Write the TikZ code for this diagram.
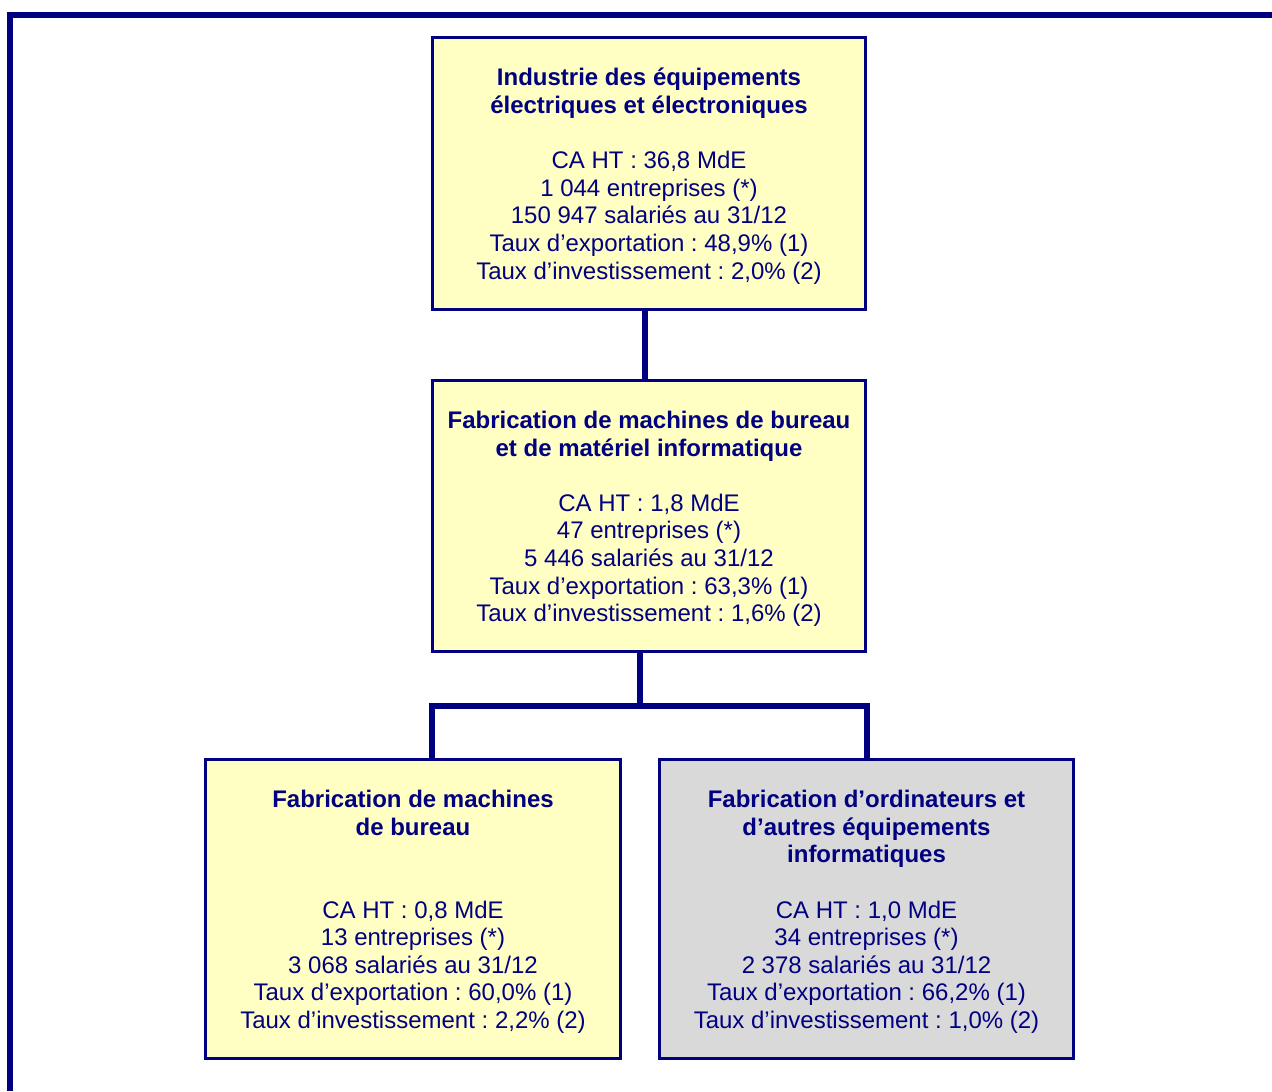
\documentclass[tikz,border=0pt]{standalone}
\usepackage{fontspec}
\setmainfont{Liberation Sans}
\frenchspacing
\definecolor{navy}{HTML}{000080}
\definecolor{boxyellow}{HTML}{FFFFC4}
\definecolor{boxgrey}{HTML}{D9D9D9}
\newcommand{\btxt}[1]{\raisebox{-1.75pt}[\height][\depth]{\begin{tabular}{@{}c@{}}#1\end{tabular}}}
\begin{document}
\begin{tikzpicture}[x=0.5pt,y=-0.5pt,
  box/.style={draw=navy,line width=1.5pt,fill=boxyellow,text=navy,inner sep=0pt,
    font=\fontsize{12}{13.8}\selectfont},
  link/.style={draw=navy,line width=3pt},
  frame/.style={draw=navy,line width=3pt}]
\useasboundingbox (0,0) rectangle (1272,1091);
% frame
\coordinate (ftl) at (10,15);
\coordinate (fbl) at (10,1091);
\coordinate (ftr) at (1272,15);
\draw[frame] (fbl) -- ([yshift=1.5pt]ftl) ;
\draw[frame] ([xshift=-1.5pt]ftl) -- (ftr);
% boxes
\node[box,minimum width=216.5pt,minimum height=136pt] (b1) at (649,173.5)
 {\btxt{\textbf{Industrie des équipements}\\\textbf{électriques et électroniques}\\[13.8pt]
  CA HT : 36,8 MdE\\1 044 entreprises (*)\\150 947 salariés au 31/12\\
  Taux d’exportation : 48,9\% (1)\\Taux d’investissement : 2,0\% (2)}};
\node[box,minimum width=216.5pt,minimum height=135.5pt] (b2) at (649,516)
 {\btxt{\textbf{Fabrication de machines de bureau}\\\textbf{et de matériel informatique}\\[13.8pt]
  CA HT : 1,8 MdE\\47 entreprises (*)\\5 446 salariés au 31/12\\
  Taux d’exportation : 63,3\% (1)\\Taux d’investissement : 1,6\% (2)}};
\node[box,minimum width=207.5pt,minimum height=149.5pt] (b3) at (413,909)
 {\btxt{\textbf{Fabrication de machines}\\\textbf{de bureau}\\[27.6pt]
  CA HT : 0,8 MdE\\13 entreprises (*)\\3 068 salariés au 31/12\\
  Taux d’exportation : 60,0\% (1)\\Taux d’investissement : 2,2\% (2)}};
\node[box,fill=boxgrey,minimum width=207pt,minimum height=149.5pt] (b4) at (866.5,909)
 {\btxt{\textbf{Fabrication d’ordinateurs et}\\\textbf{d’autres équipements}\\\textbf{informatiques}\\[13.8pt]
  CA HT : 1,0 MdE\\34 entreprises (*)\\2 378 salariés au 31/12\\
  Taux d’exportation : 66,2\% (1)\\Taux d’investissement : 1,0\% (2)}};
% connectors
\draw[link] ([xshift=-2pt]b1.south) -- ([xshift=-2pt]b2.north);
\coordinate (jl) at (432,706);
\coordinate (jr) at (867,706);
\draw[link] ([xshift=-4.5pt]b2.south) -- ([xshift=-4.5pt]b2.south |- jl);
\draw[link,line join=miter] (b3.north -| jl) -- (jl) -- (jr) -- (jr |- b4.north);
\end{tikzpicture}
\end{document}
